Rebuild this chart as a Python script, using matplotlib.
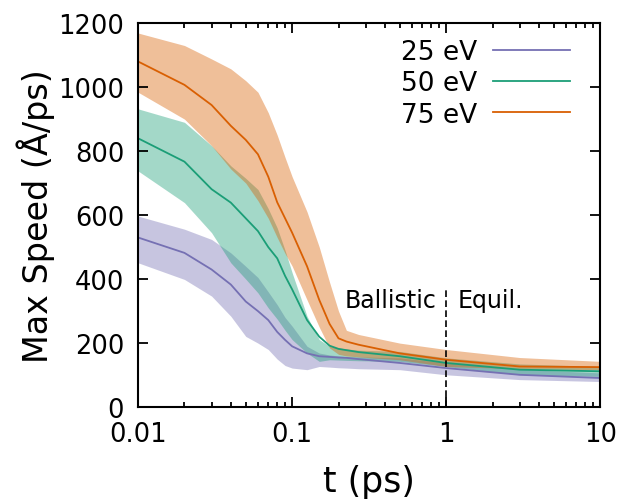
import matplotlib.pyplot as plt
import numpy as np
from matplotlib.ticker import NullFormatter, LogLocator

# time grid (ps)
t = np.array([0.01, 0.02, 0.03, 0.04, 0.05, 0.06, 0.07, 0.08, 0.09, 0.1,
              0.125, 0.15, 0.175, 0.2, 0.225, 0.27, 0.5, 1.0, 3.0, 10.0])

# 25 eV
mean_25 = np.array([530, 482, 430, 383, 330, 300, 272, 235, 210, 190,
                    168, 159, 157, 155, 154, 150, 138, 122, 101, 91])
upper_25 = np.array([597, 556, 524, 482, 440, 405, 360, 320, 280, 253,
                     190, 169, 163, 160, 158, 157, 154, 138, 118, 107])
lower_25 = np.array([451, 399, 347, 284, 221, 200, 180, 150, 130, 122,
                     117, 127, 125, 123, 122, 120, 117, 101, 86, 80])

# 50 eV
mean_50 = np.array([840, 767, 681, 639, 590, 550, 500, 465, 410, 368,
                    272, 220, 192, 182, 178, 172, 159, 138, 117, 112])
upper_50 = np.array([932, 890, 817, 754, 715, 680, 620, 560, 490, 420,
                     284, 211, 190, 185, 182, 178, 174, 154, 135, 127])
lower_50 = np.array([738, 639, 545, 451, 400, 357, 310, 275, 240, 211,
                     169, 143, 148, 147, 146, 145, 143, 127, 101, 96])

# 75 eV
mean_75 = np.array([1080, 1007, 944, 879, 835, 790, 720, 640, 590, 545,
                    440, 335, 260, 215, 205, 195, 168, 148, 127, 125])
upper_75 = np.array([1169, 1130, 1088, 1057, 1020, 984, 920, 850, 780, 720,
                     610, 500, 390, 300, 240, 227, 200, 180, 155, 143])
lower_75 = np.array([984, 900, 817, 744, 700, 645, 590, 530, 480, 441,
                     335, 250, 185, 165, 160, 157, 148, 127, 120, 117])

labels = ['25 eV', '50 eV', '75 eV']
colors = ['#7570b3', '#1b9e77', '#d95f02']

fig = plt.figure(figsize=(6.22, 5.02), dpi=100)
ax = fig.add_axes([0.222, 0.187, 0.743, 0.765])

series = [(mean_25, lower_25, upper_25), (mean_50, lower_50, upper_50),
          (mean_75, lower_75, upper_75)]
for (m, lo, hi), c in zip(series, colors):
    ax.fill_between(t, lo, hi, color=c, alpha=0.4, lw=0)
for (m, lo, hi), c, lab in zip(series, colors, labels):
    ax.plot(t, m, color=c, lw=1.3, label=lab)

ax.set_xscale('log')
ax.set_xlim(0.01, 10)
ax.set_ylim(0, 1200)
ax.set_yticks(np.arange(0, 1201, 200))
ax.set_xticks([0.01, 0.1, 1, 10])
ax.set_xticklabels(['0.01', '0.1', '1', '10'])
ax.xaxis.set_minor_locator(LogLocator(base=10, subs=np.arange(2, 10)))
ax.xaxis.set_minor_formatter(NullFormatter())

ax.tick_params(which='both', direction='in', top=True, right=True,
               labelsize=18.5, width=1.3)
ax.tick_params(which='major', length=7, pad=10)
ax.tick_params(which='minor', length=3.5)
for s in ax.spines.values():
    s.set_linewidth(1.5)

ax.set_xlabel('t (ps)', fontsize=25, labelpad=12)
ax.set_ylabel('Max Speed (Å/ps)', fontsize=24)
ax.yaxis.set_label_coords(-0.18, 0.5)

# ballistic / equilibrium divider
ax.plot([1, 1], [0, 373], color='black', lw=1.2, ls=(0, (4, 2)))
ax.annotate('Ballistic', xy=(1, 336), xytext=(-7, 0), textcoords='offset points',
            ha='right', va='center', fontsize=17)
ax.annotate('Equil.', xy=(1, 336), xytext=(8, 0), textcoords='offset points',
            ha='left', va='center', fontsize=17)

ax.legend(loc='upper right', frameon=False, markerfirst=False, fontsize=19,
          handlelength=2.95, labelspacing=0.2, handletextpad=0.6,
          bbox_to_anchor=(0.987, 1.02))

fig.savefig('out.png', dpi=100)
